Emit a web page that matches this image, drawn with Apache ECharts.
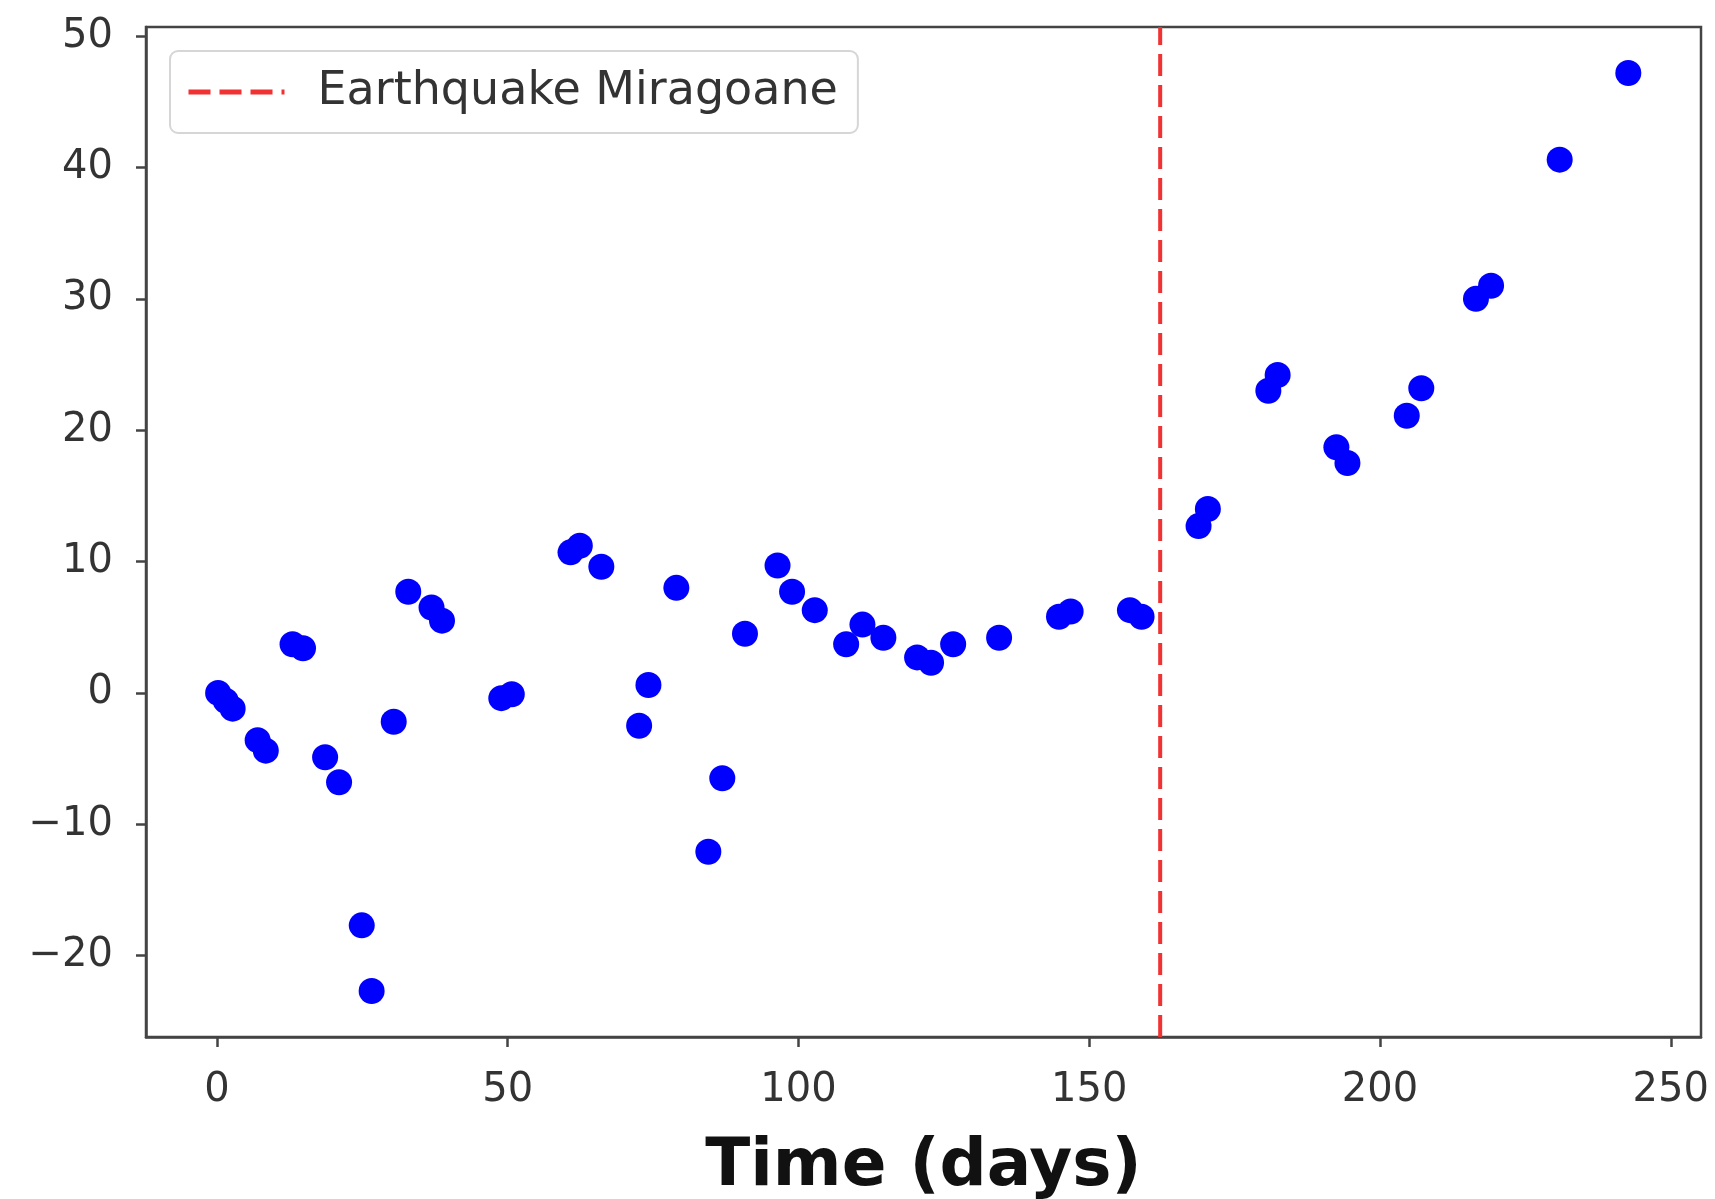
<!DOCTYPE html>
<html>
<head>
<meta charset="utf-8">
<script src="https://cdn.jsdelivr.net/npm/echarts@6/dist/echarts.min.js"></script>
<style>
html,body{margin:0;padding:0;background:#fff;}
#chart{width:1715px;height:1199px;}
</style>
</head>
<body>
<div id="chart"></div>
<script>
// Data
const days = [0.2, 1.5, 2.7, 7.0, 8.4, 13.0, 14.8, 18.6, 21.0, 24.9, 26.6, 30.4, 32.9, 36.9, 38.7,
  48.9, 50.7, 60.8, 62.4, 66.1, 72.6, 74.2, 79.0, 84.5, 86.9, 90.8, 96.4, 98.9, 102.8,
  108.2, 111.0, 114.6, 120.4, 122.8, 126.6, 134.5, 144.8, 146.8, 157.0, 159.0,
  168.8, 170.4, 180.8, 182.4, 192.5, 194.4, 204.6, 207.1, 216.5, 219.1, 230.9, 242.7];
const values = [0.0, -0.6, -1.2, -3.6, -4.4, 3.7, 3.4, -4.9, -6.8, -17.7, -22.7, -2.2, 7.7, 6.5, 5.5,
  -0.4, -0.1, 10.7, 11.2, 9.6, -2.5, 0.6, 8.0, -12.1, -6.5, 4.5, 9.7, 7.7, 6.3,
  3.7, 5.2, 4.2, 2.7, 2.3, 3.7, 4.2, 5.8, 6.2, 6.3, 5.8,
  12.7, 14.0, 23.0, 24.2, 18.7, 17.5, 21.1, 23.2, 30.0, 31.0, 40.6, 47.2];
const quakeDay = [162.2];
const quakeName = 'Earthquake Miragoane';
const xTicks = [0, 50, 100, 150, 200, 250];
const yTicks = [-20, -10, 0, 10, 20, 30, 40, 50];
const xRange = [-12.2, 255.2];
const yRange = [-26.2, 50.7];

const points = days.map((d, i) => [d, values[i]]);
const quakeLine = [[quakeDay[0], yRange[0]], [quakeDay[0], yRange[1]]];

const FONT = 'DejaVu Sans';
const axisCol = '#444';

const chart = echarts.init(document.getElementById('chart'), null, {renderer: 'canvas'});
chart.setOption({
  animation: false,
  backgroundColor: '#ffffff',
  grid: {left: 146, right: 14, top: 27, bottom: 162, show: true, borderColor: axisCol, borderWidth: 2.5,
    backgroundColor: 'transparent', containLabel: false, outerBoundsMode: 'none'},
  legend: {
    show: true,
    data: [quakeName],
    left: 170, top: 51,
    orient: 'horizontal',
    backgroundColor: '#fff',
    borderColor: '#d6d6d6',
    borderWidth: 2,
    borderRadius: 8,
    padding: [18, 20, 18, 16],
    itemWidth: 96,
    itemHeight: 10,
    itemStyle: {opacity: 0},
    lineStyle: {color: '#f03232', width: 5, type: [22, 9]},
    textStyle: {fontFamily: FONT, fontSize: 46, color: '#333', padding: [0, 0, 0, 28]}
  },
  xAxis: {
    type: 'value', min: xRange[0], max: xRange[1],
    name: 'Time (days)', nameLocation: 'middle', nameGap: 98,
    nameTextStyle: {fontFamily: FONT, fontSize: 66, fontWeight: 'bold', color: '#111'},
    splitLine: {show: false},
    axisLine: {show: true, onZero: false, lineStyle: {color: axisCol, width: 2.5}},
    axisTick: {show: true, inside: false, length: 10, lineStyle: {color: axisCol, width: 2.5}, customValues: xTicks},
    axisLabel: {fontFamily: FONT, fontSize: 40, color: '#333', margin: 34, customValues: xTicks, showMinLabel: true, showMaxLabel: true}
  },
  yAxis: {
    type: 'value', min: yRange[0], max: yRange[1],
    splitLine: {show: false},
    axisLine: {show: true, onZero: false, lineStyle: {color: axisCol, width: 2.5}},
    axisTick: {show: true, inside: false, length: 10, lineStyle: {color: axisCol, width: 2.5}, customValues: yTicks},
    axisLabel: {fontFamily: FONT, fontSize: 40, color: '#333', margin: 33, customValues: yTicks,
      formatter: v => String(v).replace('-', '\u2212')}
  },
  series: [
    {
      name: 'data', type: 'scatter', data: points, symbol: 'circle', symbolSize: 26,
      itemStyle: {color: '#0000ff', opacity: 1}, z: 2
    },
    {
      name: quakeName, type: 'line', data: quakeLine, symbol: 'none', showSymbol: false,
      lineStyle: {color: '#f03232', width: 4, type: [22, 9]}, z: 3
    }
  ]
});
</script>
</body>
</html>
